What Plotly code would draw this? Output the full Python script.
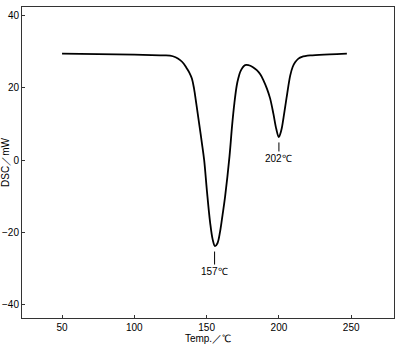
import plotly.graph_objects as go

temp = [50, 100, 118, 124.7, 128.5, 131.7, 134.2, 136.3, 138.2, 139.8, 141.3, 142.0, 143.2, 144.8, 146.7,
        148.3, 150.2, 152.4, 154.2, 155.8, 157.5, 159.3, 161.0, 162.8, 165.8, 167.6, 169.2, 170.8,
        172.0, 173.2, 174.8, 176.6, 178.9, 181.8, 184.7, 187.2, 189.3, 191.7, 193.9, 196.2, 198.2,
        199.9, 201.6, 203.2, 205.5, 207.8, 209.5, 211.2, 213.5, 215.9, 221.6, 235, 247]
dsc = [29.5, 29.2, 29.0, 28.95, 28.5, 27.7, 26.7, 25.4, 24.1, 22.6, 19.8, 18.0, 14.7, 10.2, 4.8,
       0, -8.5, -17.2, -22.0, -23.8, -23.0, -19.8, -15.2, -10.0, 1.0, 9.5, 15.8, 20.6,
       22.8, 24.4, 25.6, 26.3, 26.3, 25.8, 24.9, 23.7, 22.1, 19.8, 17.1, 12.8, 8.6,
       6.4, 8.2, 11.8, 17.8, 23.4, 25.8, 27.1, 28.1, 28.6, 29.0, 29.3, 29.5]

peak_t = [155.5, 200]
peak_v = [-23.8, 6.4]
peak_lbl = ["157℃", "202℃"]
label_dy = [20, 16]

xticks = [50, 100, 150, 200, 250]
yticks = [-40, -20, 0, 20, 40]

FONT = "Liberation Sans, Arial, sans-serif"

fig = go.Figure()
fig.add_trace(go.Scatter(x=temp, y=dsc, mode="lines",
                         line=dict(color="black", width=1.8, shape="spline", smoothing=1.0),
                         showlegend=False, hoverinfo="skip"))

for t, v, lbl, dy in zip(peak_t, peak_v, peak_lbl, label_dy):
    fig.add_annotation(x=t, y=v - 1.5, text=lbl, showarrow=True, arrowhead=0,
                       arrowwidth=1, arrowcolor="black", ax=0, ay=dy, standoff=0,
                       font=dict(family=FONT, size=10, color="black"))

axis_common = dict(showgrid=False, zeroline=False, showline=True, linecolor="#333",
                   linewidth=1, mirror=True, ticks="inside", ticklen=3, tickcolor="#333",
                   automargin=False,
                   tickfont=dict(family=FONT, size=10, color="black"))

fig.update_xaxes(range=[22.3, 279.6], tickvals=xticks,
                 title=dict(text="Temp.／℃", font=dict(family=FONT, size=10, color="black"), standoff=2),
                 **axis_common)
fig.update_yaxes(range=[-43.7, 42.4], tickvals=yticks,
                 title=dict(text="DSC／mW", font=dict(family=FONT, size=10, color="black"), standoff=2),
                 **axis_common)

fig.update_layout(width=400, height=346, margin=dict(l=22, r=6, t=7, b=28),
                  paper_bgcolor="white", plot_bgcolor="white")

fig.write_html("out.html")
